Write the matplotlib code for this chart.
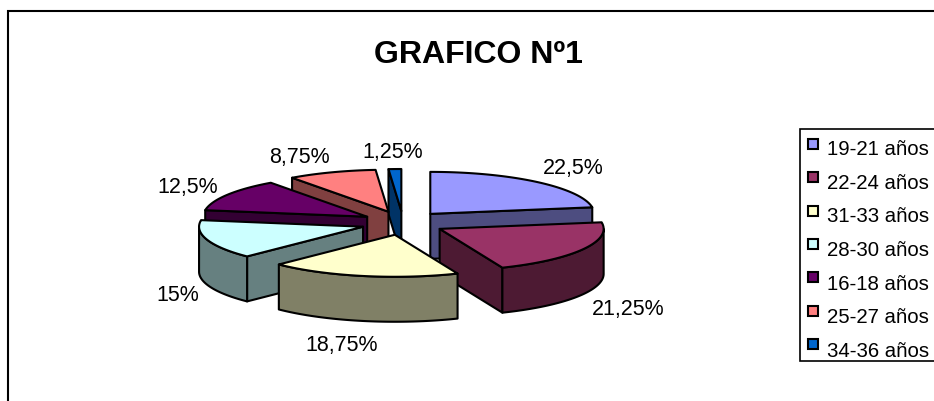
import numpy as np
import matplotlib
matplotlib.use("Agg")
import matplotlib.pyplot as plt
from matplotlib.patches import Polygon, Rectangle

plt.rcParams['font.family'] = ['Liberation Sans', 'DejaVu Sans']

# Datos
categorias = ["19-21 años", "22-24 años", "31-33 años", "28-30 años",
              "16-18 años", "25-27 años", "34-36 años"]
valores = [22.5, 21.25, 18.75, 15, 12.5, 8.75, 1.25]
etiquetas = ["22,5%", "21,25%", "18,75%", "15%", "12,5%", "8,75%", "1,25%"]
colores = ["#9999FF", "#993366", "#FFFFCC", "#CCFFFF", "#660066", "#FF8080", "#0066CC"]
titulo = "GRAFICO Nº1"

# Layout (en pixeles de la imagen)
cx, cy = 403, 224
rx, ry = 164, 42
alto = 45
exp_x, exp_y = 42, 12
pos_etiquetas = [(573, 169), (628, 310), (342, 346), (178, 296),
                 (188, 188), (299, 158), (393, 153)]
orden = [6, 5, 4, 3, 0, 1, 2]

fig = plt.figure(figsize=(9.34, 4.02), dpi=100)
ax = fig.add_axes([0, 0, 1, 1])
ax.set_xlim(0, 934)
ax.set_ylim(402, 0)
ax.axis('off')

# Marco del grafico (sin borde derecho ni inferior)
ax.plot([8, 8, 934], [402, 12, 12], color='black', lw=1.5, solid_joinstyle='miter')

ax.text(478, 55, titulo, fontsize=23, fontweight='bold', ha='center', va='center')


def oscuro(color):
    return tuple(c * 0.5 for c in matplotlib.colors.to_rgb(color))


def borde(ox, oy, a):
    return ox + rx * np.sin(a), oy - ry * np.cos(a)


def poligono(xs, ys, color, z):
    ax.add_patch(Polygon(np.column_stack([xs, ys]), closed=True, facecolor=color,
                         edgecolor='black', lw=1.5, joinstyle='round', zorder=z))


# Angulos de cada porcion, en sentido horario desde arriba
acum = np.cumsum([0] + valores) / sum(valores) * 2 * np.pi

for z, i in enumerate(orden):
    a0, a1 = acum[i], acum[i + 1]
    med = (a0 + a1) / 2
    ox = cx + exp_x * np.sin(med)
    oy = cy - exp_y * np.cos(med)
    base = 10 + z * 5
    osc = oscuro(colores[i])

    # Caras de corte visibles
    if np.sin(a0) < -1e-6:
        x, y = borde(ox, oy, a0)
        poligono([ox, x, x, ox], [oy, y, y + alto, oy + alto], osc, base)
    if np.sin(a1) > 1e-6:
        x, y = borde(ox, oy, a1)
        poligono([ox, x, x, ox], [oy, y, y + alto, oy + alto], osc, base)

    # Pared exterior (solo la parte delantera)
    ini, fin = max(a0, np.pi / 2), min(a1, 3 * np.pi / 2)
    if fin > ini:
        t = np.linspace(ini, fin, 60)
        x, y = borde(ox, oy, t)
        poligono(np.r_[x, x[::-1]], np.r_[y, y[::-1] + alto], osc, base + 1)

    # Tapa superior
    t = np.linspace(a0, a1, 60)
    x, y = borde(ox, oy, t)
    poligono(np.r_[ox, x], np.r_[oy, y], colores[i], base + 2)

for texto, (x, y) in zip(etiquetas, pos_etiquetas):
    ax.text(x, y, texto, fontsize=15.5, ha='center', va='center', color='black')

# Leyenda
ax.add_patch(Rectangle((800, 130), 140, 232, facecolor='white', edgecolor='black', lw=1.2, zorder=50))
for i, nombre in enumerate(categorias):
    ys = 145 + i * 33.3
    yt = 149.5 + i * 33.7
    ax.add_patch(Rectangle((808, ys - 5), 10, 10, facecolor=colores[i], edgecolor='black',
                           lw=1.5, zorder=51))
    ax.text(827, yt, nombre, fontsize=14.7, ha='left', va='center', zorder=51)

fig.savefig('out.png', dpi=100)
